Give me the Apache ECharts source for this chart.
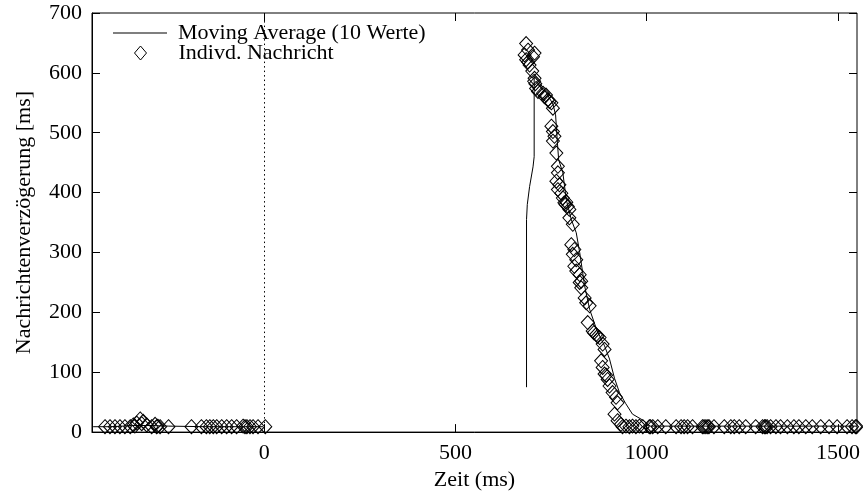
<!DOCTYPE html>
<html>
<head>
<meta charset="utf-8">
<script src="https://cdn.jsdelivr.net/npm/echarts@6/dist/echarts.min.js"></script>
<style>
html,body{margin:0;padding:0;background:#fff;}
#c{width:863px;height:496px;}
</style>
</head>
<body>
<div id="c"></div>
<script>
// ---- data ----
var xTicks = [0, 500, 1000, 1500];
var yTicks = [0, 100, 200, 300, 400, 500, 600, 700];

var seriesNames = ['Moving Average (10 Werte)', 'Indivd. Nachricht'];

// individual messages (x: Zeit ms, y: Verzögerung ms)
var msgX = [
  -416,-403,-390,-377,-364,-350,-342,-338,-333,-324,-320,-316,-307,-294,-285,-281,-278,-272,-250,
  -190,-164,-151,-142,-133,-124,-111,-98,-85,-72,-55,-50,-45,-37,-29,-16,3,
  685,690,707,681,685,703,694,690,701,707,706,709,711,716,729,733,737,742,746,751,755,
  751,755,759,755,764,768,768,764,772,768,777,781,785,788,790,794,798,798,807,
  803,811,807,816,811,816,825,829,825,829,838,842,851,846,859,862,868,872,877,885,890,
  881,885,890,894,898,903,911,920,924,916,924,933,946,963,981,
  937,955,972,990,1007,1010,1016,1029,1050,1077,1090,1098,1107,1120,1146,1150,1155,1160,1163,
  1176,1203,1220,1229,1242,1259,1285,1303,1308,1311,1315,1324,1338,1350,1368,1385,1398,1416,
  1433,1455,1477,1498,1524,1537,1546,1549
];
var msgY = [
  9,9,9,9,9,9,12,10,15,22,14,18,12,9,13,9,10,9,9,
  9,9,9,9,9,9,9,9,9,9,10,9,9,9,9,9,9,
  649,638,633,630,622,627,613,618,603,591,586,582,574,569,566,560,563,555,552,550,541,
  511,502,494,486,466,444,433,419,413,405,399,391,383,380,384,377,372,358,347,
  313,305,297,288,277,269,263,252,250,241,224,216,211,183,169,166,163,160,158,147,138,
  119,108,97,95,88,77,66,58,49,30,19,13,10,10,10,
  9,9,9,9,9,9,9,9,9,9,9,9,9,9,9,9,9,9,9,
  9,9,9,9,9,9,9,9,9,9,9,9,9,9,9,9,9,9,
  9,9,9,9,9,9,9,9
];

// moving average (null = gap in the line)
var maX = [-447,-400,-340,-300,-250,-150,-50,-3, 300,
  686,686,688,694,703,706,706,730,755,762,766,770,781,790,803,816,825,838,851,870,890,903,916,929,945,963,990,1010,1550];
var maY = [9,9,11,11,10,9,9,9, null,
  75,355,380,410,443,460,594,575,548,530,490,455,433,388,355,333,300,244,205,170,144,122,90,66,48,30,20,10,10];

// ---- build ----
var msgData = msgX.map(function(x,i){return [x, msgY[i]];});
var maData = maX.map(function(x,i){return [x, maY[i]];});

var FONT = 'Liberation Serif';
var FS = 22;
var plain = function(v){ return String(v); };

var chart = echarts.init(document.getElementById('c'), null, {renderer:'canvas'});
chart.setOption({
  animation: false,
  backgroundColor: '#fff',
  textStyle: {fontFamily: FONT, color: '#000'},
  grid: {left: 92, right: 6, top: 13, bottom: 63, show: true, borderColor: '#000', borderWidth: 1, backgroundColor: 'transparent'},
  legend: [{
    orient: 'vertical', left: 113, top: 22, itemWidth: 54, itemHeight: 1, padding: 0,
    icon: 'rect',
    textStyle: {fontFamily: FONT, fontSize: FS, color: '#000', padding: [0,0,0,6]},
    data: [seriesNames[0]]
  },{
    orient: 'vertical', left: 134, top: 42, itemWidth: 12, itemHeight: 14, padding: 0,
    icon: 'diamond',
    itemStyle: {color: 'rgba(0,0,0,0)', borderColor: '#000', borderWidth: 1},
    textStyle: {fontFamily: FONT, fontSize: FS, color: '#000', padding: [0,0,0,27]},
    data: [seriesNames[1]]
  }],
  xAxis: [{
    type: 'value', min: -450, max: 1550, position: 'bottom',
    name: 'Zeit (ms)', nameLocation: 'middle', nameGap: 34,
    nameTextStyle: {fontFamily: FONT, fontSize: FS, color: '#000'},
    axisLine: {show: true, onZero: false, lineStyle: {color: '#000', width: 1}},
    axisTick: {show: true, inside: true, length: 8, customValues: xTicks, lineStyle: {color: '#000'}},
    axisLabel: {fontFamily: FONT, fontSize: FS, color: '#000', margin: 10, customValues: xTicks, formatter: plain},
    splitLine: {show: false}
  },{
    type: 'value', min: -450, max: 1550, position: 'top',
    axisLine: {show: false, onZero: false},
    axisTick: {show: true, inside: true, length: 8, customValues: xTicks, lineStyle: {color: '#000'}},
    axisLabel: {show: false},
    splitLine: {show: false}
  }],
  yAxis: [{
    type: 'value', min: 0, max: 700, interval: 100, position: 'left',
    name: 'Nachrichtenverzögerung [ms]', nameLocation: 'middle', nameGap: 57,
    nameTextStyle: {fontFamily: FONT, fontSize: FS, color: '#000'},
    axisLine: {show: true, onZero: false, lineStyle: {color: '#000', width: 1}},
    axisTick: {show: true, inside: true, length: 8, lineStyle: {color: '#000'}},
    axisLabel: {fontFamily: FONT, fontSize: FS, color: '#000', margin: 10, customValues: yTicks, formatter: plain},
    splitLine: {show: false}
  },{
    type: 'value', min: 0, max: 700, interval: 100, position: 'right',
    axisLine: {show: false, onZero: false},
    axisTick: {show: true, inside: true, length: 8, lineStyle: {color: '#000'}},
    axisLabel: {show: false},
    splitLine: {show: false}
  }],
  series: [{
    name: seriesNames[0],
    type: 'line',
    data: maData,
    showSymbol: false,
    symbol: 'none',
    connectNulls: false,
    lineStyle: {color: '#000', width: 1},
    itemStyle: {color: '#000'},
    z: 3,
    markLine: {
      silent: true, symbol: ['none','none'],
      label: {show: false},
      lineStyle: {color: '#000', type: [1.5, 3], width: 1},
      data: [{xAxis: 0}]
    }
  },{
    name: seriesNames[1],
    type: 'scatter',
    data: msgData,
    symbol: 'diamond',
    symbolSize: [13, 14],
    itemStyle: {color: 'rgba(0,0,0,0)', borderColor: '#000', borderWidth: 1, opacity: 1},
    z: 2
  }]
});
</script>
</body>
</html>
